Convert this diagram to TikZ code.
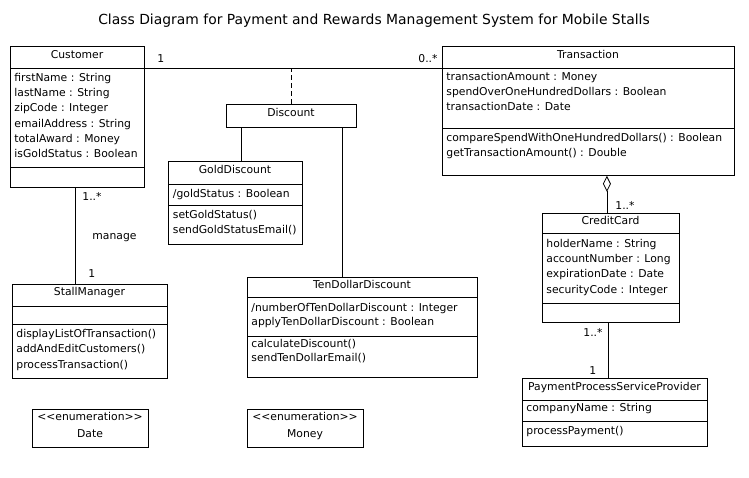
\documentclass[tikz,border=0pt]{standalone}
\usepackage{fontspec}
\setmainfont{DejaVu Sans}
\usetikzlibrary{arrows.meta}
\newcommand{\uf}{\fontsize{10.8}{15.3}\selectfont}
\newcommand{\fr}{\rule{0pt}{10pt}}
\begin{document}
\begin{tikzpicture}[x=1pt,y=-1pt, line width=0.8pt,
  box/.style={draw, anchor=north west, inner sep=0pt, fill=white},
  nm/.style={anchor=base, inner sep=0pt, font=\uf},
  txt/.style={anchor=north west, inner sep=0pt, align=left, font=\uf},
  lbl/.style={anchor=base west, inner sep=0pt, font=\uf},
  conn/.style={line width=0.8pt}]
\useasboundingbox[fill=white] (0,0) rectangle (749,478);

% title
\node[anchor=base, inner sep=0pt, font=\fontsize{13.9}{16}\selectfont] (title) at (374,25)
  {Class Diagram for Payment and Rewards Management System for Mobile Stalls};

% Customer
\node[box, minimum width=134pt, minimum height=141pt] (cust) at (10,46) {};
\draw (10,68) -- (144,68);
\draw (10,167) -- (144,167);
\node[nm] (custN) at (77,59) {Customer};
\node[txt] (custA) at (14,71) {\fr firstName : String\\ lastName : String\\ zipCode : Integer\\ emailAddress : String\\ totalAward : Money\\ isGoldStatus : Boolean};

% Transaction
\node[box, minimum width=292pt, minimum height=129pt] (trans) at (442,46) {};
\draw (442,68) -- (734,68);
\draw (442,128) -- (734,128);
\node[nm] (transN) at (588,59) {Transaction};
\node[txt] (transA) at (446,70) {\fr transactionAmount : Money\\ spendOverOneHundredDollars : Boolean\\ transactionDate : Date};
\node[txt] (transO) at (446,130.7) {\fr compareSpendWithOneHundredDollars() : Boolean\\ getTransactionAmount() : Double};

% Discount
\node[box, minimum width=130pt, minimum height=23pt] (disc) at (226,104) {};
\node[nm] (discN) at (291,116.3) {Discount};

% GoldDiscount
\node[box, minimum width=134pt, minimum height=83pt] (gold) at (168,161) {};
\draw (168,184) -- (302,184);
\draw (168,205) -- (302,205);
\node[nm] (goldN) at (235,173.3) {GoldDiscount};
\node[lbl] (goldA) at (172.5,197.3) {/goldStatus : Boolean};
\node[txt] (goldO) at (172.5,208.3) {\fr setGoldStatus()\\ sendGoldStatusEmail()};

% TenDollarDiscount
\node[box, minimum width=230pt, minimum height=100pt] (ten) at (247,277) {};
\draw (247,297) -- (477,297);
\draw (247,336) -- (477,336);
\node[nm] (tenN) at (362,288) {TenDollarDiscount};
\node[txt, font=\fontsize{10.8}{14}\selectfont] (tenA) at (251,300.7) {\fr /numberOfTenDollarDiscount : Integer\\ applyTenDollarDiscount : Boolean};
\node[txt, font=\fontsize{10.8}{14}\selectfont] (tenO) at (251,337.5) {\fr calculateDiscount()\\ sendTenDollarEmail()};

% StallManager
\node[box, minimum width=155pt, minimum height=94pt] (sm) at (12,284) {};
\draw (12,306) -- (167,306);
\draw (12,324) -- (167,324);
\node[nm] (smN) at (89.5,295.7) {StallManager};
\node[txt] (smO) at (16,327) {\fr displayListOfTransaction()\\ addAndEditCustomers()\\ processTransaction()};

% CreditCard
\node[box, minimum width=137pt, minimum height=109pt] (cc) at (542,213) {};
\draw (542,233) -- (679,233);
\draw (542,303) -- (679,303);
\node[nm] (ccN) at (610.5,224.3) {CreditCard};
\node[txt] (ccA) at (546,236.7) {\fr holderName : String\\ accountNumber : Long\\ expirationDate : Date\\ securityCode : Integer};

% PaymentProcessServiceProvider
\node[box, minimum width=185pt, minimum height=68pt] (ppsp) at (522,378) {};
\draw (522,400) -- (707,400);
\draw (522,421) -- (707,421);
\node[nm] (ppspN) at (614.5,390) {PaymentProcessServiceProvider};
\node[lbl] (ppspA) at (526,411.7) {companyName : String};
\node[lbl] (ppspO) at (526,434.3) {processPayment()};

% enumerations
\node[box, minimum width=116pt, minimum height=38pt] (date) at (32,409) {};
\node[nm] (dateS) at (90,420) {<{}<enumeration>{}>};
\node[nm] (dateN) at (90,437.7) {Date};
\node[box, minimum width=116pt, minimum height=38pt] (money) at (247,409) {};
\node[nm] (moneyS) at (305,420) {<{}<enumeration>{}>};
\node[nm] (moneyN) at (305,437.7) {Money};

% connectors
\coordinate (ln) at ([yshift=-22pt]cust.north east);
\draw[conn] (ln) -- ([yshift=-22pt]trans.north west);
\draw[conn, dash pattern=on 5pt off 3pt] (disc.north) -- (disc.north |- ln);
\draw[conn] ([xshift=15pt]disc.south west) -- ([xshift=15pt]disc.south west |- gold.north);
\draw[conn] ([xshift=-14pt]disc.south east) -- ([xshift=-14pt]disc.south east |- ten.north);
\draw[conn] ([xshift=65pt]cust.south west) -- ([xshift=65pt]cust.south west |- sm.north);
\draw[conn, {Diamond[open, length=16pt, width=8pt]}-] ([xshift=-4pt]cc.north |- trans.south) -- ([xshift=-4pt]cc.north);
\draw[conn] ([xshift=-3pt]cc.south) -- ([xshift=-3pt]cc.south |- ppsp.north);

% multiplicities and labels
\node[lbl] (m1) at (157,62.7) {1};
\node[lbl] (m2) at (418,62.7) {0..*};
\node[lbl] (m3) at (82,200.7) {1..*};
\node[lbl] (manage) at (92,240) {manage};
\node[lbl] (m4) at (88,277.7) {1};
\node[lbl] (m5) at (615,210) {1..*};
\node[lbl] (m6) at (583,336.7) {1..*};
\node[lbl] (m7) at (589,374) {1};
\end{tikzpicture}
\end{document}
